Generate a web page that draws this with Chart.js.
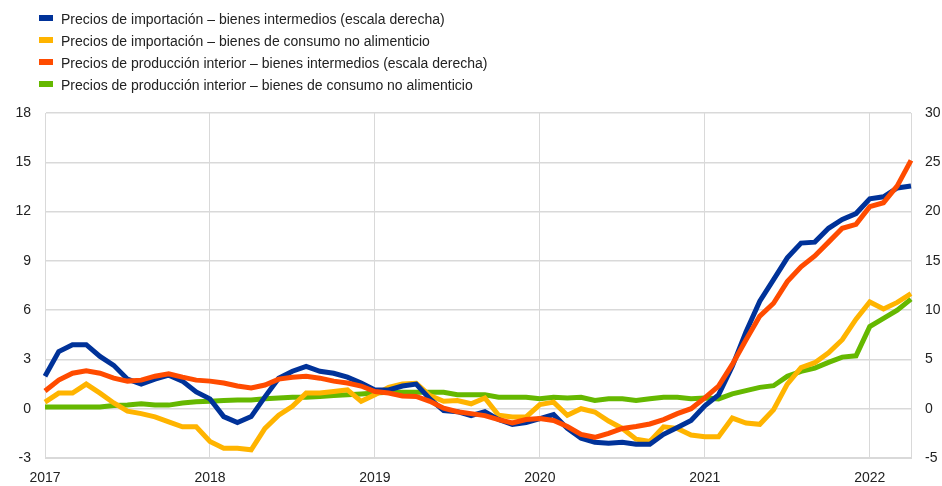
<!DOCTYPE html>
<html>
<head>
<meta charset="utf-8">
<script src="https://cdn.jsdelivr.net/npm/chart.js@4.4.1/dist/chart.umd.min.js"></script>
<style>
  html, body { margin: 0; padding: 0; background: #fff; }
  #wrap { position: relative; width: 942px; height: 486px; }
  #legend { position: absolute; left: 39px; top: 8px; font: 14px "Liberation Sans", Arial, sans-serif; color: #222; }
  #legend div { height: 22px; line-height: 22px; white-space: nowrap; }
  #legend span { display: inline-block; width: 14px; height: 6px; margin-right: 8px; vertical-align: 3px; }
</style>
</head>
<body>
<div id="wrap">
  <canvas id="chart" width="942" height="486"></canvas>
  <div id="legend"></div>
</div>
<script>
// monthly, Jan 2017 - Apr 2022
const years = [2017, 2018, 2019, 2020, 2021, 2022]
const months = ['01', '02', '03', '04', '05', '06', '07', '08', '09', '10', '11', '12']
const labels = []
for (const y of years) {
  for (const m of months) {
    if (y === 2022 && m > '04') break
    labels.push(y + '-' + m)
  }
}

// right axis
const importIntermediate = [
  3.3, 5.8, 6.5, 6.5, 5.3, 4.4, 3.0, 2.5, 3.0, 3.4, 2.8, 1.7,
  1.0, -0.8, -1.4, -0.8, 1.2, 3.1, 3.8, 4.3, 3.8, 3.6, 3.2, 2.6,
  1.9, 1.9, 2.3, 2.5, 1.0, -0.2, -0.3, -0.7, -0.3, -1.1, -1.6, -1.4,
  -1.0, -0.6, -2.0, -3.0, -3.4, -3.5, -3.4, -3.6, -3.6, -2.6, -1.9, -1.2,
  0.3, 1.4, 4.3, 7.8, 10.9, 13.1, 15.3, 16.8, 16.9, 18.3, 19.2, 19.8,
  21.3, 21.5, 22.4, 22.6
]
// left axis
const importConsumer = [
  0.4, 0.95, 0.95, 1.5, 0.95, 0.35, -0.15, -0.3, -0.5, -0.8, -1.1, -1.1,
  -2.0, -2.4, -2.4, -2.5, -1.2, -0.4, 0.15, 0.95, 0.95, 1.05, 1.15, 0.45,
  0.85, 1.3, 1.5, 1.55, 0.8, 0.45, 0.5, 0.3, 0.65, -0.4, -0.5, -0.5,
  0.25, 0.4, -0.4, 0.0, -0.2, -0.75, -1.2, -1.85, -2.0, -1.1, -1.2, -1.6,
  -1.7, -1.7, -0.57, -0.87, -0.95, -0.06, 1.5, 2.5, 2.8, 3.4, 4.2, 5.45,
  6.5, 6.07, 6.47, 7.0
]
// right axis
const domesticIntermediate = [
  1.8, 2.9, 3.6, 3.85, 3.6, 3.1, 2.8, 2.9, 3.3, 3.55, 3.2, 2.9,
  2.8, 2.6, 2.3, 2.1, 2.4, 3.0, 3.2, 3.3, 3.1, 2.8, 2.6, 2.3,
  1.75, 1.6, 1.3, 1.25, 0.75, 0.05, -0.3, -0.5, -0.7, -1.1, -1.45, -1.1,
  -1.0, -1.2, -1.8, -2.6, -2.9, -2.5, -2.0, -1.8, -1.55, -1.1, -0.5, 0.0,
  1.1, 2.3, 4.5, 7.0, 9.4, 10.7, 12.9, 14.4, 15.5, 16.9, 18.3, 18.7,
  20.5, 20.9, 22.6, 25.2
]
// left axis
const domesticConsumer = [
  0.1, 0.1, 0.1, 0.1, 0.1, 0.2, 0.22, 0.3, 0.22, 0.22, 0.35, 0.42,
  0.45, 0.5, 0.53, 0.53, 0.6, 0.65, 0.7, 0.7, 0.75, 0.8, 0.85, 0.9,
  0.95, 1.0, 1.0, 1.0, 1.0, 1.0, 0.85, 0.85, 0.85, 0.7, 0.7, 0.7,
  0.6, 0.7, 0.65, 0.7, 0.5, 0.6, 0.6, 0.5, 0.6, 0.7, 0.7, 0.6,
  0.65, 0.6, 0.9, 1.1, 1.3, 1.4, 1.97, 2.27, 2.47, 2.82, 3.14, 3.22,
  5.0, 5.5, 6.0, 6.67
]

const leftTicks = [-3, 0, 3, 6, 9, 12, 15, 18]
const rightTicks = [-5, 0, 5, 10, 15, 20, 25, 30]

const seriesNames = [
  'Precios de importación – bienes intermedios (escala derecha)',
  'Precios de importación – bienes de consumo no alimenticio',
  'Precios de producción interior – bienes intermedios (escala derecha)',
  'Precios de producción interior – bienes de consumo no alimenticio'
]
const colors = ['#003299', '#ffb400', '#ff4b00', '#65b800']

const gridColor = '#d9d9d9'
const font = { family: '"Liberation Sans", Arial, sans-serif', size: 14 }

const legendEl = document.getElementById('legend')
seriesNames.forEach((name, i) => {
  const row = document.createElement('div')
  row.innerHTML = `<span style="background:${colors[i]}"></span>${name}`
  legendEl.appendChild(row)
})

function line(idx, data, axis, order) {
  return {
    label: seriesNames[idx],
    data: data,
    yAxisID: axis,
    borderColor: colors[idx],
    backgroundColor: colors[idx],
    borderWidth: 5,
    pointRadius: 0,
    tension: 0,
    order: order
  }
}

new Chart(document.getElementById('chart'), {
  type: 'line',
  data: {
    labels: labels,
    datasets: [
      line(0, importIntermediate, 'yR', 1),
      line(1, importConsumer, 'yL', 2),
      line(2, domesticIntermediate, 'yR', 0),
      line(3, domesticConsumer, 'yL', 3)
    ]
  },
  options: {
    responsive: false,
    animation: false,
    layout: { padding: { top: 113, left: 0, right: 0, bottom: 0 } },
    plugins: { legend: { display: false }, tooltip: { enabled: false } },
    scales: {
      x: {
        afterFit: s => { s.height = 28 },
        grid: {
          color: c => (c.index % 12 === 0 ? gridColor : 'rgba(0,0,0,0)'),
          drawTicks: false
        },
        border: { color: gridColor },
        ticks: {
          autoSkip: false,
          maxRotation: 0,
          padding: 12,
          color: '#222',
          font: font,
          callback: function (v) {
            const l = this.getLabelForValue(v)
            return l.endsWith('-01') ? l.slice(0, 4) : ''
          }
        }
      },
      yL: {
        position: 'left',
        min: leftTicks[0],
        max: leftTicks[leftTicks.length - 1],
        afterBuildTicks: s => { s.ticks = leftTicks.map(v => ({ value: v })) },
        afterFit: s => { s.width = 45 },
        grid: { color: gridColor, lineWidth: 1.5, drawTicks: false },
        border: { color: gridColor },
        ticks: { padding: 14, color: '#222', font: font }
      },
      yR: {
        position: 'right',
        min: rightTicks[0],
        max: rightTicks[rightTicks.length - 1],
        afterBuildTicks: s => { s.ticks = rightTicks.map(v => ({ value: v })) },
        afterFit: s => { s.width = 31 },
        grid: { drawOnChartArea: false, drawTicks: false },
        border: { color: gridColor },
        ticks: { padding: 14, color: '#222', font: font }
      }
    }
  }
})
</script>
</body>
</html>
